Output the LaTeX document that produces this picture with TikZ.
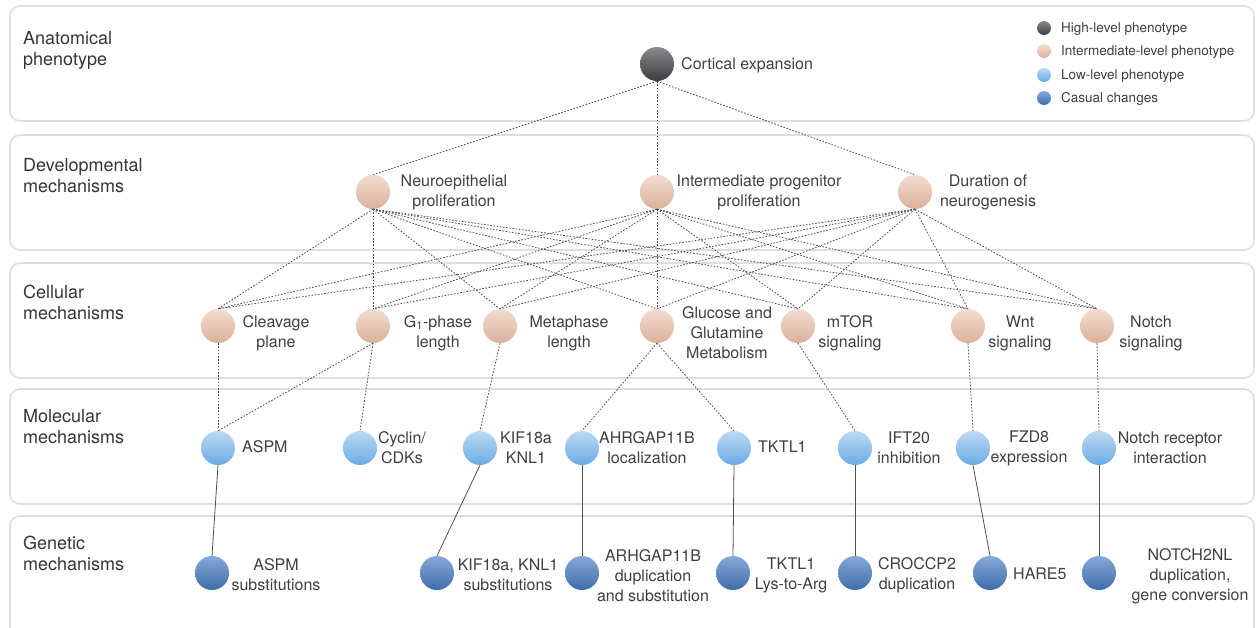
\documentclass[tikz,border=0pt]{standalone}
\usepackage{fontspec}
\setmainfont{TeX Gyre Heros}
\definecolor{panelgray}{HTML}{DEDEDE}
\definecolor{txtgray}{HTML}{404040}
\definecolor{linkgray}{HTML}{505050}
\definecolor{highT}{HTML}{8A8A8C}
\definecolor{highB}{HTML}{3C3C3E}
\definecolor{midT}{HTML}{F3DDD0}
\definecolor{midB}{HTML}{DAB09A}
\definecolor{lowT}{HTML}{BCD9F3}
\definecolor{lowB}{HTML}{6AABE4}
\definecolor{causeT}{HTML}{86A9D8}
\definecolor{causeB}{HTML}{3F6DAA}
\tikzset{
  panel/.style={draw=panelgray, line width=1.6pt, rounded corners=10pt},
  dotbase/.style={circle, minimum size=34pt, inner sep=0pt},
  high/.style={dotbase, top color=highT, bottom color=highB},
  mid/.style={dotbase, top color=midT, bottom color=midB},
  low/.style={dotbase, top color=lowT, bottom color=lowB},
  cause/.style={dotbase, top color=causeT, bottom color=causeB},
  keydot/.style={minimum size=14pt},
  lbl/.style={text=txtgray, font=\fontsize{16}{20}\selectfont, align=center, inner sep=0pt},
  keytxt/.style={text=txtgray, font=\fontsize{13.5}{16}\selectfont, anchor=west, inner sep=0pt},
  lvl/.style={text=txtgray!85!black, font=\fontsize{18}{21}\selectfont, align=left, anchor=west, inner sep=0pt},
  dlink/.style={draw=linkgray, line width=0.8pt, dash pattern=on 1.6pt off 1.6pt},
  slink/.style={draw=linkgray, line width=0.8pt},
}
\begin{document}
\begin{tikzpicture}[x=1pt, y=-1pt]
\useasboundingbox (0,0) rectangle (1257,627);
\clip (0,0) rectangle (1257,627);
\fill[white] (0,0) rectangle (1257,627);

% level panels
\draw[panel] (10,6) rectangle (1254,121);
\draw[panel] (10,135) rectangle (1254,250);
\draw[panel] (10,263) rectangle (1254,378);
\draw[panel] (10,389) rectangle (1254,504);
\draw[panel] (10,516) rectangle (1254,650);

% level titles
\node[lvl] (L1) at (23,50) {Anatomical\\phenotype};
\node[lvl] (L2) at (23,176) {Developmental\\mechanisms};
\node[lvl] (L3) at (23,302) {Cellular\\mechanisms};
\node[lvl] (L4) at (23,427) {Molecular\\mechanisms};
\node[lvl] (L5) at (23,553) {Genetic\\mechanisms};

% legend
\node[high, keydot] (k1) at (1044,28) {};
\node[mid, keydot] (k2) at (1044,51) {};
\node[low, keydot] (k3) at (1044,75) {};
\node[cause, keydot] (k4) at (1044,98) {};
\node[keytxt] (kt1) at (1061,29) {High-level phenotype};
\node[keytxt] (kt2) at (1061,52) {Intermediate-level phenotype};
\node[keytxt] (kt3) at (1061,76) {Low-level phenotype};
\node[keytxt] (kt4) at (1061,99) {Casual changes};

% anatomical level
\node[high] (ctx) at (657,64) {};
\node[lbl, anchor=west] (ctx-t) at (681,65) {Cortical expansion};

% developmental level
\node[mid] (neu) at (373,192) {};
\node[mid] (ipp) at (657,192) {};
\node[mid] (dur) at (915,192) {};
\node[lbl] (neu-t) at (454,192) {Neuroepithelial\\proliferation};
\node[lbl] (ipp-t) at (759,192) {Intermediate progenitor\\proliferation};
\node[lbl] (dur-t) at (988,192) {Duration of\\neurogenesis};

% cellular level
\node[mid] (clv) at (218,326) {};
\node[mid] (g1) at (373,326) {};
\node[mid] (met) at (500,326) {};
\node[mid] (glu) at (657,326) {};
\node[mid] (mtor) at (798,326) {};
\node[mid] (wnt) at (968,326) {};
\node[mid] (ntc) at (1097,326) {};
\node[lbl] (clv-t) at (276,333) {Cleavage\\plane};
\node[lbl] (g1-t) at (438,333) {G\textsubscript{1}-phase\\length};
\node[lbl] (met-t) at (569,333) {Metaphase\\length};
\node[lbl] (glu-t) at (727,333) {Glucose and\\Glutamine\\Metabolism};
\node[lbl] (mtor-t) at (850,333) {mTOR\\signaling};
\node[lbl] (wnt-t) at (1020,333) {Wnt\\signaling};
\node[lbl] (ntc-t) at (1151,333) {Notch\\signaling};

% molecular level
\node[low] (aspm) at (218,448) {};
\node[low] (cyc) at (360,448) {};
\node[low] (kif) at (480,448) {};
\node[low] (ahr) at (582,448) {};
\node[low] (tkt) at (734,448) {};
\node[low] (ift) at (855,448) {};
\node[low] (fzd) at (973,448) {};
\node[low] (nrec) at (1099,448) {};
\node[lbl, anchor=west] (aspm-t) at (242,447) {ASPM};
\node[lbl] (cyc-t) at (402,448) {Cyclin/\\CDKs};
\node[lbl] (kif-t) at (526,448) {KIF18a\\KNL1};
\node[lbl] (ahr-t) at (647,448) {AHRGAP11B\\localization};
\node[lbl, anchor=west] (tkt-t) at (758,447) {TKTL1};
\node[lbl] (ift-t) at (909,448) {IFT20\\inhibition};
\node[lbl] (fzd-t) at (1029,448) {FZD8\\expression};
\node[lbl] (nrec-t) at (1170,448) {Notch receptor\\interaction};

% genetic level
\node[cause] (gaspm) at (212,573) {};
\node[cause] (gkif) at (437,573) {};
\node[cause] (gahr) at (582,573) {};
\node[cause] (gtkt) at (733,573) {};
\node[cause] (gcro) at (855,573) {};
\node[cause] (ghar) at (990,573) {};
\node[cause] (gnot) at (1099,573) {};
\node[lbl] (gaspm-t) at (276,575) {ASPM\\substitutions};
\node[lbl] (gkif-t) at (508,575) {KIF18a, KNL1\\substitutions};
\node[lbl] (gahr-t) at (653,576) {ARHGAP11B\\duplication\\and substitution};
\node[lbl] (gtkt-t) at (791,575) {TKTL1\\Lys-to-Arg};
\node[lbl] (gcro-t) at (917,575) {CROCCP2\\duplication};
\node[lbl, anchor=west] (ghar-t) at (1013,574) {HARE5};
\node[lbl] (gnot-t) at (1190,576) {NOTCH2NL\\duplication,\\gene conversion};

% anatomical -> developmental
\foreach \d in {neu,ipp,dur}
  \draw[dlink] (ctx.south) -- (\d.north);

% developmental -> cellular
\foreach \d in {neu,ipp,dur}
  \foreach \c in {clv,g1,met,glu,mtor,wnt,ntc}
    \draw[dlink] (\d.south) -- (\c.north);

% cellular -> molecular
\draw[dlink] (clv.south) -- (aspm.north);
\draw[dlink] (g1.south) -- (aspm.north);
\draw[dlink] (g1.south) -- (cyc.north);
\draw[dlink] (met.south) -- (kif.north);
\draw[dlink] (glu.south) -- (ahr.north);
\draw[dlink] (glu.south) -- (tkt.north);
\draw[dlink] (mtor.south) -- (ift.north);
\draw[dlink] (wnt.south) -- (fzd.north);
\draw[dlink] (ntc.south) -- (nrec.north);

% molecular -> genetic
\draw[slink] (aspm.south) -- (gaspm.north);
\draw[slink] (kif.south) -- (gkif.north);
\draw[slink] (ahr.south) -- (gahr.north);
\draw[slink] (tkt.south) -- (gtkt.north);
\draw[slink] (ift.south) -- (gcro.north);
\draw[slink] (fzd.south) -- (ghar.north);
\draw[slink] (nrec.south) -- (gnot.north);
\end{tikzpicture}
\end{document}
